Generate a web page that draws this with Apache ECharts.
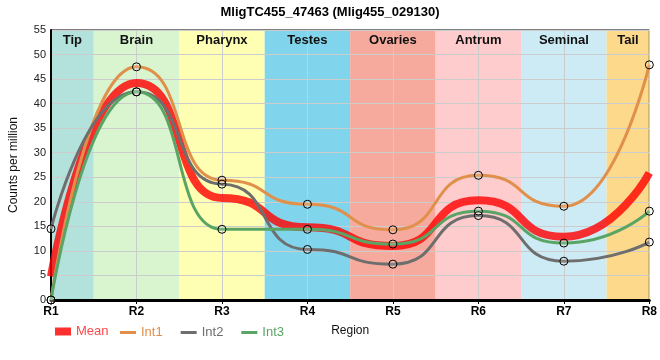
<!DOCTYPE html>
<html><head><meta charset="utf-8">
<script src="https://cdn.jsdelivr.net/npm/echarts@6/dist/echarts.min.js"></script>
<style>html,body{margin:0;padding:0;background:#fff}#c{width:660px;height:360px}</style>
</head><body><div id="c"></div>
<script>
const regions = ['R1','R2','R3','R4','R5','R6','R7','R8'];
const bandNames = ['Tip','Brain','Pharynx','Testes','Ovaries','Antrum','Seminal','Tail'];
const bandColors = ['#b3e2dd','#d8f5d0','#ffffb3','#80d4ec','#f5aa9d','#fecccc','#cdebf5','#fdd98b'];
const meanVals = [4.8, 44.2, 20.8, 14.8, 11.0, 20.3, 12.9, 25.9];
const int1Vals = [0, 47.5, 24.4, 19.5, 14.3, 25.4, 19.1, 47.9];
const int2Vals = [14.5, 42.4, 23.6, 10.3, 7.3, 17.2, 7.9, 11.8];
const int3Vals = [0, 42.4, 14.4, 14.4, 11.4, 18.1, 11.6, 18.1];
const yTicks = {min: 0, max: 55, interval: 5};

const toPts = arr => arr.map((v, i) => [i, v]);
const bandData = colorFn => bandNames.map((n, i) => [
  {name: n, xAxis: Math.max(0, i - 0.5), itemStyle: {color: colorFn(i)}},
  {xAxis: Math.min(regions.length - 1, i + 0.5)}
]);
const mk = {symbol: 'circle', symbolSize: 8, itemStyle: {color: 'rgba(255,255,255,0.15)', borderColor: '#000', borderWidth: 1}};
const cols = {Mean: '#ff3030', Int1: '#e0904a', Int2: '#6e6e6e', Int3: '#5aa565'};
const SM = 0.6;

const chart = echarts.init(document.getElementById('c'));
chart.setOption({
  animation: false,
  title: {text: 'MligTC455_47463 (Mlig455_029130)', left: 'center', top: 1,
    textStyle: {fontSize: 13, fontWeight: 'bold', color: '#000', fontFamily: 'Liberation Sans'}},
  grid: {left: 50, right: 9, top: 30, bottom: 60, show: true, borderColor: '#000', borderWidth: 1, backgroundColor: 'transparent', z: 1},
  legend: [
    {data: [{name: 'Mean', textStyle: {color: '#ff4a4a'}, itemStyle: {color: cols.Mean, borderWidth: 0}}],
      left: 50, top: 320, icon: 'rect', itemWidth: 16, itemHeight: 8, itemGap: 4, textStyle: {fontSize: 13}},
    {data: ['Int1','Int2','Int3'].map(n => ({name: n, textStyle: {color: cols[n]}, itemStyle: {color: cols[n], borderWidth: 0}})),
      left: 115, top: 321, icon: 'rect', itemWidth: 16, itemHeight: 3, itemGap: 18, textStyle: {fontSize: 13}}
  ],
  xAxis: {type: 'value', min: 0, max: regions.length - 1, interval: 1, z: 1,
    name: 'Region', nameLocation: 'middle', nameGap: 25, nameTextStyle: {fontSize: 12, color: '#111'},
    axisLine: {lineStyle: {color: '#000', width: 3}},
    axisTick: {show: true, length: 4, lineStyle: {color: '#000'}},
    axisLabel: {formatter: v => regions[v], fontSize: 12, fontWeight: 'bold', color: '#000', margin: 6},
    splitLine: {show: true, lineStyle: {color: '#cccccc'}}},
  yAxis: {type: 'value', min: yTicks.min, max: yTicks.max, interval: yTicks.interval, z: 1,
    name: 'Counts per million', nameLocation: 'middle', nameGap: 31, nameTextStyle: {fontSize: 12, color: '#111'},
    axisLine: {show: true, lineStyle: {color: '#000', width: 2}},
    axisTick: {show: false},
    axisLabel: {fontSize: 11, color: '#222', margin: 5},
    splitLine: {show: true, lineStyle: {color: '#cccccc'}}},
  series: [
    {type: 'line', name: 'bands', data: [], z: -1, silent: true,
      markArea: {silent: true, z: -1, data: bandData(i => bandColors[i]), label: {show: false}}},
    {type: 'line', name: 'bandLabels', data: [], z: 2, silent: true,
      markArea: {silent: true, z: 2, data: bandData(() => 'rgba(0,0,0,0)'),
        label: {show: true, position: 'insideTop', distance: 4, fontSize: 13, fontWeight: 'bold', color: '#111'}}},
    {type: 'line', name: 'Mean', data: toPts(meanVals), smooth: SM, smoothMonotone: 'x', showSymbol: false,
      lineStyle: {color: 'rgba(255,0,0,0.8)', width: 8}, itemStyle: {color: 'rgba(255,0,0,0.8)'}},
    {type: 'line', name: 'Int1', data: toPts(int1Vals), smooth: SM, smoothMonotone: 'x', ...mk,
      lineStyle: {color: cols.Int1, width: 3}},
    {type: 'line', name: 'Int2', data: toPts(int2Vals), smooth: SM, smoothMonotone: 'x', ...mk,
      lineStyle: {color: cols.Int2, width: 3}},
    {type: 'line', name: 'Int3', data: toPts(int3Vals), smooth: SM, smoothMonotone: 'x', ...mk,
      lineStyle: {color: cols.Int3, width: 3}}
  ]
});
</script></body></html>
